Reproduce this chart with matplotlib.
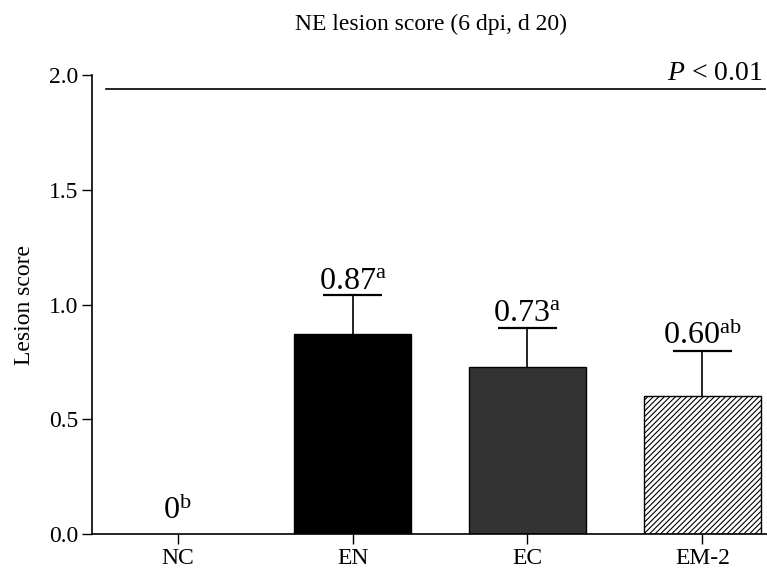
import matplotlib.pyplot as plt

plt.rcParams["font.family"] = ["Liberation Serif", "DejaVu Serif"]
plt.rcParams["mathtext.fontset"] = "custom"
plt.rcParams["mathtext.rm"] = "Liberation Serif"
plt.rcParams["mathtext.it"] = "Liberation Serif:italic"
plt.rcParams["hatch.linewidth"] = 0.8

groups = ["NC", "EN", "EC", "EM-2"]
means = [0.0, 0.87, 0.73, 0.60]
sems = [0.0, 0.17, 0.17, 0.20]
value_labels = ["0", "0.87", "0.73", "0.60"]
letters = ["b", "a", "a", "ab"]
colors = ["white", "#000000", "#333333", "white"]
hatches = [None, None, None, "//////"]

fig = plt.figure(figsize=(7.67, 5.70), dpi=100)
ax = fig.add_axes([0.12, 0.063, 0.88, 0.805])

x = list(range(len(groups)))
for i in x:
    if means[i] > 0:
        ax.bar(i, means[i], width=0.67, color=colors[i], edgecolor="black",
               linewidth=1.0, hatch=hatches[i], zorder=2)
        top = means[i] + sems[i]
        ax.vlines(i, means[i], top, color="black", linewidth=1.2, zorder=3)
        ax.hlines(top, i - 0.17, i + 0.17, color="black", linewidth=1.6, zorder=3)
        ty = top + 0.03
    else:
        ty = 0.065
    ax.text(i, ty, f"{value_labels[i]}$^{{\\mathrm{{{letters[i]}}}}}$",
            ha="center", va="baseline", fontsize=23)

ax.plot([-0.41, 3.36], [1.94, 1.94], color="black", linewidth=1.2, clip_on=False)
ax.text(3.345, 1.978, "$P$ < 0.01", ha="right", va="baseline", fontsize=20, clip_on=False)

ax.set_xlim(-0.49, 3.37)
ax.set_ylim(0, 2.0)
ax.set_yticks([0.0, 0.5, 1.0, 1.5, 2.0])
ax.set_yticklabels(["0.0", "0.5", "1.0", "1.5", "2.0"])
ax.set_xticks(x)
ax.set_xticklabels(groups)
ax.tick_params(axis="both", direction="out", length=7, width=1.0, labelsize=17, pad=3)
for s in ["top", "right"]:
    ax.spines[s].set_visible(False)
for s in ["left", "bottom"]:
    ax.spines[s].set_linewidth(1.2)
ax.set_ylabel("Lesion score", fontsize=17, labelpad=10)
fig.text(0.562, 0.958, "NE lesion score (6 dpi, d 20)", ha="center", va="center", fontsize=17)

fig.savefig("out.png", dpi=100)
